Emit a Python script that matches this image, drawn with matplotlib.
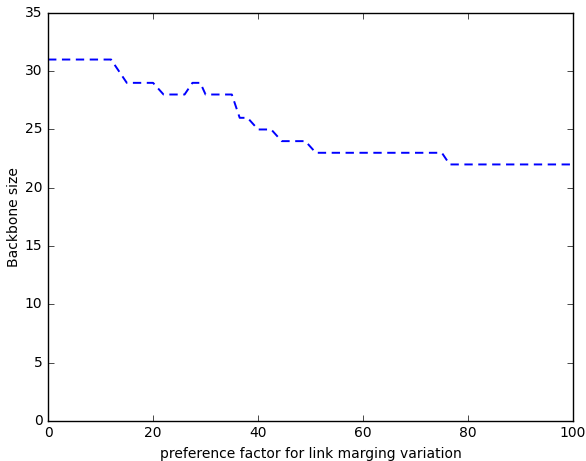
import matplotlib
matplotlib.use("Agg")
import matplotlib.pyplot as plt

# breakpoints
factor = [0, 12, 15, 20, 22, 26, 27.5, 29, 30, 35, 36.5, 38, 40, 42.5, 44.5, 49, 51, 75, 76.5, 100]
backbone = [31, 31, 29, 29, 28, 28, 29, 29, 28, 28, 26, 26, 25, 25, 24, 24, 23, 23, 22, 22]

plt.style.use("classic")
fig = plt.figure(figsize=(5.86, 4.61), dpi=100, facecolor="white")
ax = fig.add_axes([0.082, 0.087, 0.896, 0.885])

ax.plot(factor, backbone, color="#0000ff", lw=1.4, dashes=(6, 4))

ax.set_xlim(0, 100)
ax.set_ylim(0, 35)
ax.set_xticks([0, 20, 40, 60, 80, 100])
ax.set_yticks(range(0, 36, 5))
ax.tick_params(labelsize=10)
ax.set_xlabel("preference factor for link marging variation", fontsize=10)
ax.set_ylabel("Backbone size", fontsize=10, labelpad=3)

fig.savefig("out.png", dpi=100, facecolor="white")
